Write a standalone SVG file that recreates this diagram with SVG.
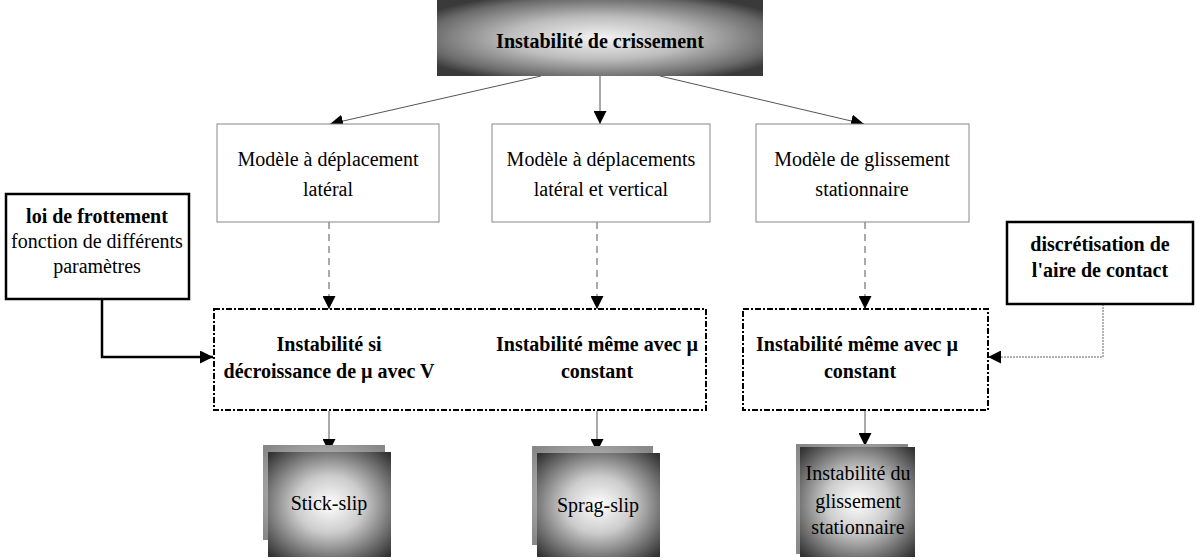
<svg xmlns="http://www.w3.org/2000/svg" width="1198" height="560" viewBox="0 0 1198 560" font-family="'Liberation Serif', 'Times New Roman', serif">
<defs>
<radialGradient id="gTop" cx="50%" cy="50%" r="62%">
<stop offset="0" stop-color="#f4f4f4"/>
<stop offset="0.45" stop-color="#bdbdbd"/>
<stop offset="0.85" stop-color="#6a6a6a"/>
<stop offset="1" stop-color="#3a3a3a"/>
</radialGradient>
<radialGradient id="gBox" cx="50%" cy="50%" r="68%">
<stop offset="0" stop-color="#ffffff"/>
<stop offset="0.4" stop-color="#cccccc"/>
<stop offset="0.8" stop-color="#666666"/>
<stop offset="1" stop-color="#333333"/>
</radialGradient>
<radialGradient id="gBack" cx="50%" cy="50%" r="65%">
<stop offset="0" stop-color="#dddddd"/>
<stop offset="1" stop-color="#888888"/>
</radialGradient>
<marker id="ahL" viewBox="0 0 10 10" refX="10" refY="5" markerWidth="13" markerHeight="13" markerUnits="userSpaceOnUse" orient="auto">
<path d="M0,0 L10,5 L0,10 Z" fill="#000"/>
</marker>
</defs>
<style>
text{font-family:"Liberation Serif","Times New Roman",serif;font-size:20px;fill:#000;text-anchor:middle}
.b{font-weight:bold}
.model{fill:#fff;stroke:#888;stroke-width:1}
.thick{fill:#fff;stroke:#000;stroke-width:2.5}
.dd{fill:none;stroke:#000;stroke-width:2;stroke-dasharray:6 2 2 2}
.thin{fill:none;stroke:#555;stroke-width:1}
.dash{fill:none;stroke:#555;stroke-width:1;stroke-dasharray:7 5}
.heavy{fill:none;stroke:#000;stroke-width:2.5}
.dot{fill:none;stroke:#666;stroke-width:1;stroke-dasharray:2 1}
</style>

<g id="connectors">
<line class="thin" x1="541" y1="76" x2="330" y2="124" marker-end="url(#ahL)"/>
<line class="thin" x1="600" y1="76" x2="600" y2="124" marker-end="url(#ahL)"/>
<line class="thin" x1="660" y1="76" x2="864" y2="124" marker-end="url(#ahL)"/>
<line class="dash" x1="329" y1="222" x2="329" y2="309" marker-end="url(#ahL)"/>
<line class="dash" x1="597" y1="222" x2="597" y2="309" marker-end="url(#ahL)"/>
<line class="dash" x1="865" y1="222" x2="865" y2="309" marker-end="url(#ahL)"/>
<polyline class="heavy" points="102,299 102,357 213,357" marker-end="url(#ahL)"/>
<polyline class="dot" points="1103,304 1103,357 988,357" marker-end="url(#ahL)"/>
<line class="thin" x1="329" y1="411" x2="329" y2="452" marker-end="url(#ahL)"/>
<line class="thin" x1="597" y1="411" x2="597" y2="452" marker-end="url(#ahL)"/>
<line class="thin" x1="865" y1="411" x2="865" y2="446" marker-end="url(#ahL)"/>
</g>

<g id="top">
<rect x="437" y="0" width="326" height="76" fill="url(#gTop)"/>
<text class="b" x="600" y="48" font-size="19">Instabilité de crissement</text>
</g>

<g id="m1">
<rect class="model" x="217" y="124" width="222" height="98"/>
<text x="328" y="166">Modèle à déplacement</text>
<text x="328" y="196">latéral</text>
</g>
<g id="m2">
<rect class="model" x="492" y="124" width="218" height="98"/>
<text x="601" y="166">Modèle à déplacements</text>
<text x="601" y="196">latéral et vertical</text>
</g>
<g id="m3">
<rect class="model" x="756" y="124" width="213" height="98"/>
<text x="862" y="166">Modèle de glissement</text>
<text x="862" y="196">stationnaire</text>
</g>

<g id="loi">
<rect class="thick" x="6" y="194" width="183" height="105"/>
<text class="b" x="97" y="223">loi de frottement</text>
<text x="97" y="248">fonction de différents</text>
<text x="97" y="273">paramètres</text>
</g>

<g id="discr">
<rect class="thick" x="1007" y="222" width="186" height="82"/>
<text class="b" x="1100" y="251">discrétisation de</text>
<text class="b" x="1100" y="277">l'aire de contact</text>
</g>

<g id="inst1">
<rect class="dd" x="214" y="309" width="492" height="101"/>
<text class="b" x="329" y="351">Instabilité si</text>
<text class="b" x="329" y="378">décroissance de µ  avec V</text>
<text class="b" x="597" y="351">Instabilité même avec µ</text>
<text class="b" x="597" y="378">constant</text>
</g>

<g id="inst2">
<rect class="dd" x="743" y="309" width="245" height="101"/>
<text class="b" x="857" y="351">Instabilité même avec µ</text>
<text class="b" x="860" y="378">constant</text>
</g>

<g id="stick">
<rect x="263" y="445" width="122" height="95" fill="url(#gBack)"/>
<rect x="268" y="452" width="123" height="105" fill="url(#gBox)"/>
<text x="329" y="510">Stick-slip</text>
</g>

<g id="sprag">
<rect x="532" y="446" width="121" height="99" fill="url(#gBack)"/>
<rect x="537" y="453" width="123" height="104" fill="url(#gBox)"/>
<text x="598" y="512">Sprag-slip</text>
</g>

<g id="glis">
<rect x="796" y="444" width="112" height="110" fill="url(#gBack)"/>
<rect x="800" y="447" width="115" height="110" fill="url(#gBox)"/>
<text x="858" y="480">Instabilité du</text>
<text x="858" y="508">glissement</text>
<text x="858" y="534">stationnaire</text>
</g>
</svg>
